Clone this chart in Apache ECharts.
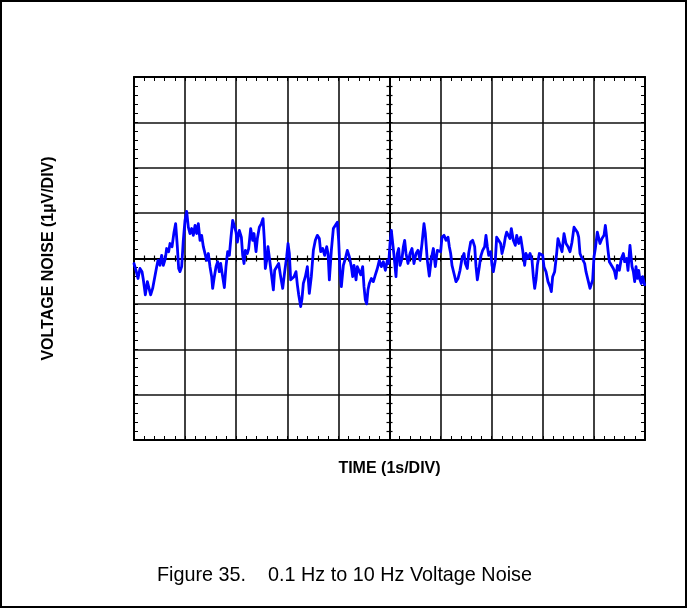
<!DOCTYPE html>
<html>
<head>
<meta charset="utf-8">
<script src="https://cdn.jsdelivr.net/npm/echarts@6/dist/echarts.min.js"></script>
<style>
  html,body{margin:0;padding:0;background:#fff;}
  #noiseChart{width:688px;height:610px;}
</style>
</head>
<body>
<div id="noiseChart"></div>
<script>
// time in seconds (1 s/div), noise in µV (1 µV/div)
var timeSec = [
  0.000,0.039,0.078,0.117,0.157,0.183,0.222,0.261,0.300,0.326,0.365,0.404,0.444,0.470,0.509,0.541,0.574,0.613,0.639,0.678,
  0.705,0.744,0.783,0.815,0.848,0.874,0.900,0.933,0.965,0.998,1.031,1.063,1.096,1.129,1.161,1.194,1.226,1.259,1.292,1.324,
  1.357,1.389,1.422,1.455,1.487,1.520,1.539,1.572,1.605,1.637,1.670,1.696,1.735,1.768,1.800,1.833,1.866,1.898,1.931,
  1.937,1.970,1.996,2.022,2.061,2.101,2.127,2.153,2.179,2.218,2.244,2.283,2.322,2.349,2.388,2.414,2.453,2.492,2.525,2.551,
  2.570,2.596,2.622,2.649,2.688,2.727,2.753,2.792,2.831,2.870,2.910,2.949,2.988,3.014,3.040,3.066,3.105,3.131,3.170,3.197,
  3.223,3.262,3.288,3.314,3.353,3.392,3.431,3.470,3.510,3.549,3.588,3.627,3.653,3.692,3.731,3.771,3.797,3.823,3.862,3.901,3.940,
  3.979,4.005,4.031,4.058,4.097,4.136,4.175,4.214,4.253,4.279,4.305,4.345,4.371,4.410,4.436,4.475,4.501,4.527,4.553,4.579,
  4.605,4.645,4.684,4.723,4.762,4.801,4.840,4.879,4.919,4.958,4.984,5.010,5.036,5.062,5.088,5.127,5.153,5.180,5.206,5.245,
  5.271,5.297,5.323,5.362,5.401,5.440,5.479,5.519,5.558,5.597,5.636,5.675,5.701,5.740,5.779,5.819,5.858,5.897,5.936,
  6.001,6.027,6.067,6.106,6.145,6.171,6.197,6.223,6.262,6.301,6.341,6.380,6.419,6.458,6.484,6.523,6.549,6.588,6.628,6.667,
  6.693,6.719,6.758,6.784,6.823,6.862,6.888,6.915,6.941,6.980,7.006,7.032,7.071,7.097,7.136,7.175,7.202,7.241,7.267,7.293,
  7.319,7.358,7.384,7.423,7.462,7.489,7.528,7.567,7.606,7.645,7.671,7.710,7.750,7.789,7.815,7.841,7.867,7.893,7.932,
  7.997,8.023,8.063,8.102,8.141,8.167,8.193,8.232,8.271,8.297,8.337,8.376,8.415,8.454,8.493,8.532,8.571,8.611,8.637,8.676,
  8.702,8.728,8.754,8.793,8.819,8.845,8.884,8.924,8.950,8.976,9.002,9.028,9.067,9.093,9.119,9.158,9.198,9.224,9.250,9.276,
  9.302,9.341,9.380,9.406,9.432,9.459,9.498,9.537,9.576,9.602,9.641,9.667,9.706,9.746,9.772,9.798,9.824,9.850,9.876,9.902,
  9.928,9.954,9.993
];
var noiseUV = [
  -0.11,-0.26,-0.44,-0.22,-0.29,-0.47,-0.80,-0.51,-0.47,-0.80,-0.66,-0.62,-0.18,-0.04,-0.15,0.07,-0.15,0.00,0.22,0.15,
  0.33,0.26,0.58,0.77,0.26,-0.22,-0.29,-0.18,0.40,0.84,1.04,0.69,0.55,0.66,0.51,0.73,0.55,0.77,0.40,0.51,
  0.26,0.22,-0.04,0.11,-0.18,-0.40,-0.66,-0.40,-0.18,-0.07,-0.29,-0.11,-0.40,-0.64,-0.18,0.15,0.07,0.47,0.84,
  0.88,0.69,0.58,0.36,0.62,0.47,0.07,-0.11,0.18,0.11,0.22,0.66,0.40,0.55,0.15,0.44,0.69,0.77,0.88,0.40,
  -0.22,-0.04,0.26,0.22,-0.33,-0.69,-0.26,-0.29,-0.11,-0.40,-0.66,-0.29,0.04,0.33,0.11,-0.47,-0.51,-0.40,-0.29,-0.58,
  -0.80,-1.06,-0.88,-0.55,-0.40,-0.18,-0.77,-0.40,0.18,0.40,0.51,0.44,0.15,0.22,0.07,0.26,0.11,-0.47,0.18,0.66,0.62,
  0.80,0.40,-0.26,-0.62,-0.15,0.00,0.18,0.04,-0.18,-0.40,-0.15,-0.47,-0.18,-0.22,-0.36,-0.18,-0.62,-0.91,-1.00,-0.69,
  -0.55,-0.44,-0.51,-0.36,-0.22,-0.04,-0.18,-0.07,-0.26,-0.04,-0.11,0.33,0.62,0.58,0.07,-0.40,0.11,0.22,-0.15,0.00,
  0.26,0.40,0.11,-0.11,0.11,0.22,-0.11,0.11,0.18,-0.04,0.33,0.77,0.55,-0.04,-0.39,0.00,0.22,-0.18,0.18,
  0.15,0.47,0.51,0.40,0.47,0.26,0.11,-0.15,-0.33,-0.51,-0.44,-0.26,0.00,0.11,-0.11,-0.22,0.11,0.36,0.40,0.26,
  -0.18,-0.47,-0.18,0.04,0.18,0.26,0.51,0.26,0.07,0.15,-0.15,-0.29,-0.04,0.47,0.44,0.33,0.11,0.29,0.47,0.58,
  0.55,0.44,0.66,0.40,0.29,0.51,0.33,0.47,0.18,-0.15,0.11,0.00,0.11,-0.04,-0.40,-0.66,-0.47,-0.15,0.11,
  0.07,-0.18,-0.29,-0.51,-0.62,-0.73,-0.40,-0.29,0.11,0.44,0.29,0.15,0.55,0.33,0.26,0.15,0.36,0.69,0.73,0.58,
  0.47,0.11,0.04,0.00,-0.11,-0.29,-0.47,-0.66,-0.69,-0.47,0.04,0.22,0.58,0.62,0.33,0.44,0.51,0.73,0.47,0.18,
  -0.07,-0.11,-0.22,-0.29,-0.44,-0.15,-0.26,0.00,0.11,-0.07,0.00,-0.26,0.29,-0.18,-0.29,-0.51,-0.18,-0.44,-0.26,-0.47,
  -0.55,-0.40,-0.58
];
var xTitle = 'TIME (1s/DIV)';
var yTitle = 'VOLTAGE NOISE (1µV/DIV)';
var caption = 'Figure 35.    0.1 Hz to 10 Hz Voltage Noise';

var fontFam = '"Liberation Sans", Arial, sans-serif';
var chart = echarts.init(document.getElementById('noiseChart'));

function xAx(opt){
  return Object.assign({
    type:'value', min:0, max:10, interval:1,
    axisLabel:{show:false},
    axisLine:{show:true, onZero:false, lineStyle:{color:'#000', width:2}},
    axisTick:{show:true, inside:true, length:4, lineStyle:{color:'#000'}},
    minorTick:{show:true, splitNumber:5, length:4, lineStyle:{color:'#000', width:1}},
    splitLine:{show:false}
  }, opt);
}
function yAx(opt){
  return Object.assign({
    type:'value', min:-4, max:4, interval:1,
    axisLabel:{show:false},
    axisLine:{show:true, onZero:false, lineStyle:{color:'#000', width:2}},
    axisTick:{show:true, inside:true, length:4, lineStyle:{color:'#000'}},
    minorTick:{show:true, splitNumber:5, length:4, lineStyle:{color:'#000', width:1}},
    splitLine:{show:false}
  }, opt);
}

var pts = timeSec.map(function(t, i){ return [t, noiseUV[i]]; });

chart.setOption({
  animation:false,
  backgroundColor:'#fff',
  textStyle:{fontFamily:fontFam},
  graphic:[{
    type:'rect', silent:true,
    shape:{x:1, y:1, width:685, height:606},
    style:{fill:null, stroke:'#000', lineWidth:2}
  }],
  title:{
    text:caption, left:157, top:566, padding:0,
    textStyle:{fontFamily:fontFam, fontSize:19.8, fontWeight:'normal', color:'#000'}
  },
  grid:{left:134, top:77, width:511, height:363},
  xAxis:[
    xAx({position:'bottom', name:xTitle, nameLocation:'middle', nameGap:21,
      nameTextStyle:{fontFamily:fontFam, fontSize:16, fontWeight:'bold', color:'#000'},
      splitLine:{show:true, lineStyle:{color:'#111', width:1.6}}}),
    xAx({position:'top'}),
    xAx({position:'bottom', axisLine:{show:true, onZero:true, lineStyle:{color:'#000', width:2}},
      axisTick:{show:true, inside:true, length:3}, minorTick:{show:true, splitNumber:5, length:3, lineStyle:{color:'#000', width:1.2}}}),
    xAx({position:'bottom', axisLine:{show:true, onZero:true, lineStyle:{color:'#000', width:2}},
      axisTick:{show:true, inside:false, length:3}, minorTick:{show:true, splitNumber:5, length:3, lineStyle:{color:'#000', width:1.2}}})
  ],
  yAxis:[
    yAx({position:'left', name:yTitle, nameLocation:'middle', nameGap:77,
      nameTextStyle:{fontFamily:fontFam, fontSize:16, fontWeight:'bold', color:'#000'},
      splitLine:{show:true, lineStyle:{color:'#111', width:1.6}}}),
    yAx({position:'right'}),
    yAx({position:'left', offset:-255.5,
      axisTick:{show:true, inside:true, length:3}, minorTick:{show:true, splitNumber:5, length:3, lineStyle:{color:'#000', width:1.2}}}),
    yAx({position:'left', offset:-255.5,
      axisTick:{show:true, inside:false, length:3}, minorTick:{show:true, splitNumber:5, length:3, lineStyle:{color:'#000', width:1.2}}})
  ],
  series:[{
    type:'line',
    xAxisIndex:0, yAxisIndex:0,
    data:pts,
    showSymbol:false,
    clip:true,
    z:5,
    lineStyle:{color:'#0000ff', width:2.8, join:'round', cap:'round'}
  }]
});
</script>
</body>
</html>
